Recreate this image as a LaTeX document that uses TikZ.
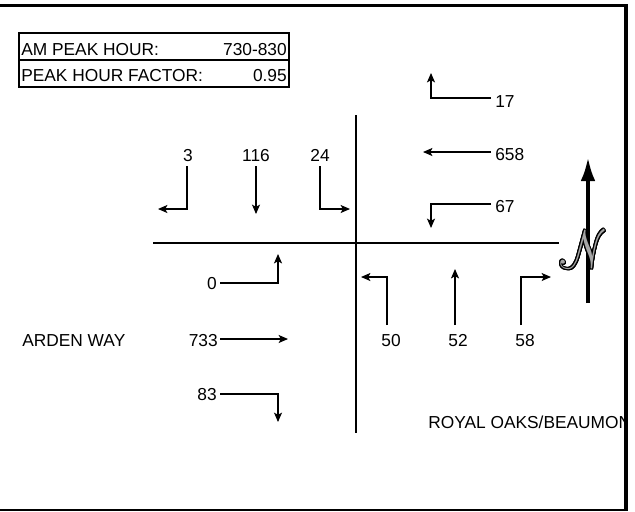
\documentclass[tikz,border=0pt]{standalone}
\usepackage{fontspec}
\setmainfont{Liberation Sans}
\usepackage{mathrsfs}
\usepackage{contour}
\contourlength{0.5pt}
\usetikzlibrary{arrows.meta}
\begin{document}
\begin{tikzpicture}[x=0.75pt,y=-0.75pt,
  lbl/.style={inner sep=0pt, font=\fontsize{13}{15}\selectfont},
  flow/.style={line width=0.85pt, -{Stealth[length=7pt,width=6pt,inset=1.5pt]}},
  road/.style={line width=1.6pt},
  boxline/.style={line width=1.5pt}]
\useasboundingbox (0,0) rectangle (635,511);
% frame
\draw[line width=2.7pt] (0,5.5) -| (626,511);
\draw[line width=2.2pt] (0,510) -- (626,510);
% table
\draw[boxline] (19,33) rectangle (289,87);
\draw[boxline] (19,60) -- (289,60);
\node[lbl, anchor=base west] (t1) at (21,55) {AM PEAK HOUR:};
\node[lbl, anchor=base east] (v1) at (287,55) {730-830};
\node[lbl, anchor=base west] (t2) at (21,81) {PEAK HOUR FACTOR:};
\node[lbl, anchor=base east] (v2) at (287,81) {0.95};
% roads
\coordinate (rw) at (153,243);
\coordinate (re) at (559,243);
\coordinate (rn) at (356,115);
\coordinate (rs) at (356,433);
\draw[road] (rw) -- (re);
\draw[road] (rn) -- (rs);
% street names
\node[lbl, anchor=base west] (arden) at (22,346) {ARDEN WAY};
\begin{scope}
\clip (0,0) rectangle (624,511);
\node[lbl, anchor=base west] (royal) at (428,428) {ROYAL OAKS/BEAUMON};
\end{scope}
% west-bound (right side, top)
\node[lbl, anchor=base west] (n17) at (495,107) {17};
\node[lbl, anchor=base west] (n658) at (495,160) {658};
\node[lbl, anchor=base west] (n67) at (495,212) {67};
\coordinate (a17) at (431,73);
\coordinate (a658) at (423,152);
\coordinate (a67) at (431,228);
\draw[flow] (491,98) -| (a17);
\draw[flow] (491,152) -- (a658);
\draw[flow] (491,204) -| (a67);
% south-bound (top left)
\node[lbl, anchor=base] (n3) at (188,161) {3};
\node[lbl, anchor=base] (n116) at (256,161) {116};
\node[lbl, anchor=base] (n24) at (320,161) {24};
\coordinate (a3) at (158,209);
\coordinate (a116) at (256,214);
\coordinate (a24) at (350,209);
\draw[flow] (187,166) |- (a3);
\draw[flow] (256,166) -- (a116);
\draw[flow] (320,166) |- (a24);
% east-bound (bottom left)
\node[lbl, anchor=base east] (n0) at (217,289) {0};
\node[lbl, anchor=base east] (n733) at (218,346) {733};
\node[lbl, anchor=base east] (n83) at (217,400) {83};
\coordinate (a0) at (278,254);
\coordinate (a733) at (288,339);
\coordinate (a83) at (278,422);
\draw[flow] (220,283) -| (a0);
\draw[flow] (220,339) -- (a733);
\draw[flow] (220,394) -| (a83);
% north-bound (bottom right)
\node[lbl, anchor=base] (n50) at (391,346) {50};
\node[lbl, anchor=base] (n52) at (458,346) {52};
\node[lbl, anchor=base] (n58) at (525,346) {58};
\coordinate (a50) at (361,277);
\coordinate (a52) at (455,269);
\coordinate (a58) at (551,277);
\draw[flow] (387,325) |- (a50);
\draw[flow] (455,325) -- (a52);
\draw[flow] (521,325) |- (a58);
% north arrow
\coordinate (nb) at (588,303);
\coordinate (nt) at (588,157);
\draw[line width=3pt, -{Latex[length=18pt,width=11pt]}] (nb) -- (nt);
\node[inner sep=0pt, text=gray!70, xscale=1.45, yscale=1.65, xslant=-0.4] (north) at (584,250) {\fontsize{24}{24}\selectfont\contour{black}{$\mathscr{N}$}};
\end{tikzpicture}
\end{document}
